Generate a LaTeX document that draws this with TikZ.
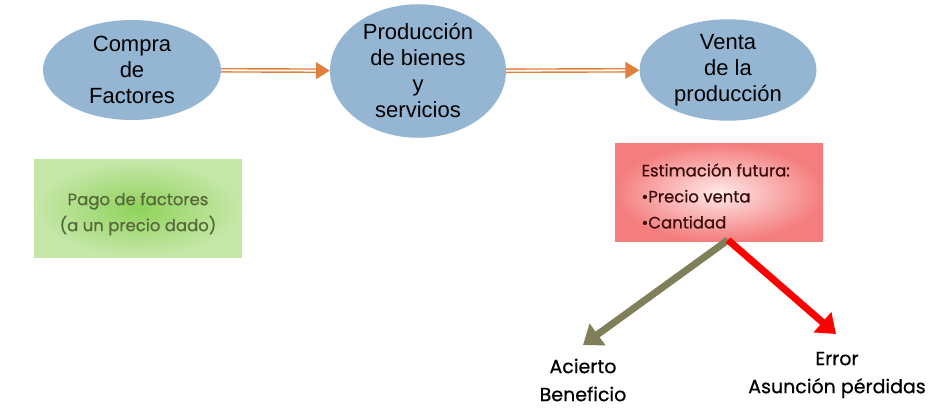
\documentclass[tikz,border=0pt]{standalone}
\usepackage{fontspec}
\setmainfont{Liberation Sans}
\newfontfamily\roundfont{Poppins}[FakeBold=0.6]
\usepackage{tikz}
\usetikzlibrary{arrows.meta}
\usetikzlibrary{calc}
\usetikzlibrary{positioning}
\usetikzlibrary{shapes.geometric}

\definecolor{stageblue}{HTML}{94B6D3}
\definecolor{floworange}{HTML}{E0803E}
\definecolor{paygreen}{HTML}{C6E7A9}
\definecolor{payglow}{HTML}{8FD35B}
\definecolor{paytext}{HTML}{56683A}
\definecolor{estred}{HTML}{F47E7E}
\definecolor{estglow}{HTML}{FFE9E9}
\definecolor{esttext}{HTML}{3A0C0C}
\definecolor{okolive}{HTML}{7F7F59}
\definecolor{errred}{HTML}{FF0000}

\begin{document}
\begin{tikzpicture}
[
	x = 1pt, y = -1pt,
	stage/.style	= {ellipse, fill = stageblue, inner sep = 0pt, align = center, font = \fontsize{22}{26}\selectfont},
	flow/.style	= {draw = floworange, double = white, line width = 1.4pt, double distance = 1.8pt, -{Triangle[length = 14pt, width = 17pt]}},
	box/.style	= {rectangle, minimum width = 208pt, minimum height = 97pt, inner sep = 0pt},
	boxtext/.style	= {font = \roundfont\fontsize{16.5}{26}\selectfont},
	outcome/.style	= {align = center, font = \roundfont\fontsize{19}{28}\selectfont},
	branch/.style	= {line width = 7pt, -{Triangle[length = 18pt, width = 26pt]}},
]

	\useasboundingbox (0,0) rectangle (945,417);

	\node (compra) [stage, minimum width = 178pt, minimum height = 100pt] at (132,70) {Compra\\de\\Factores};
	\node (prod) [stage, minimum width = 176pt, minimum height = 132pt] at (418,71) {Producción\\de bienes\\y\\servicios};
	\node (venta) [stage, minimum width = 177pt, minimum height = 100pt] at (728,70) {Venta\\de la\\producción};

	\draw [flow] (compra) -- (prod);
	\draw [flow] (prod) -- (venta);

	% pago y estimacion
	\node (pago) [box, inner color = payglow, outer color = paygreen] at (138,208.5) {};
	\node (pagotext) [boxtext, align = center, text = paytext] at (138,214) {Pago de factores\\(a un precio dado)};

	\node (estim) [box, inner color = estglow, outer color = estred] at (719,192.5) {};
	\node (estimtext) [boxtext, align = left, text = esttext, anchor = west] at (638,196) {Estimación futura:\\•Precio venta\\•Cantidad};

	\coordinate (split) at (728,240);
	\coordinate (acierto tip) at (583,345);
	\coordinate (error tip) at (836,334);

	\draw [branch, draw = okolive, fill = okolive] (split) -- (acierto tip);
	\draw [branch, draw = errred, fill = errred] (split) -- (error tip);

	\node (acierto) [outcome] at (583,380) {Acierto\\Beneficio};
	\node (error) [outcome] at (837,375) {Error\\Asunción pérdidas};

\end{tikzpicture}
\end{document}
